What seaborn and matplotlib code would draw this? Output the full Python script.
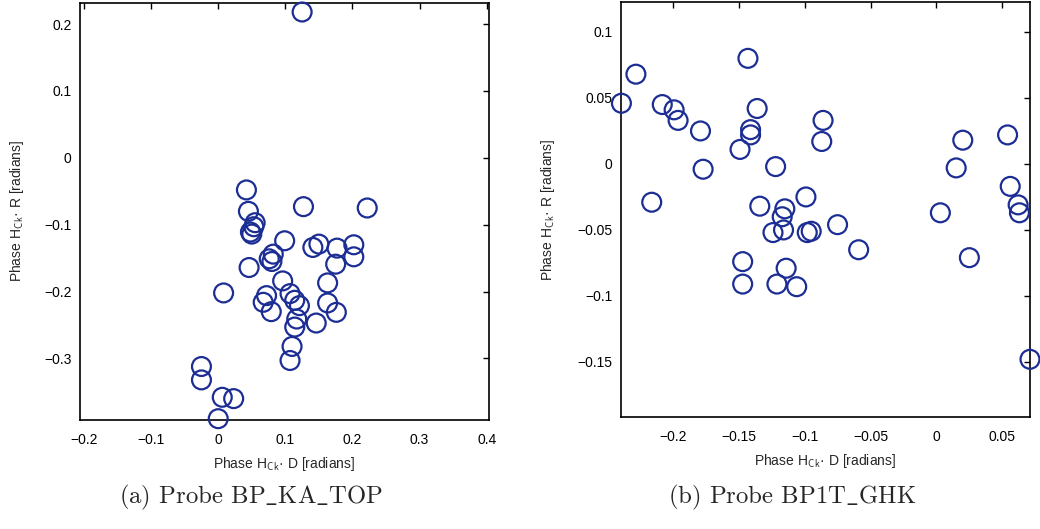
import matplotlib
matplotlib.use("Agg")
import matplotlib.pyplot as plt
import seaborn as sns

# === Data ===
# (a) Probe BP_KA_TOP
ka_top_d = [0.125, 0.042, 0.127, 0.222, 0.045, 0.055, 0.053, 0.048, 0.050, 0.099,
            0.150, 0.141, 0.177, 0.202, 0.202, 0.175, 0.082, 0.076, 0.080, 0.046,
            0.096, 0.163, 0.008, 0.072, 0.107, 0.067, 0.114, 0.121, 0.079, 0.163,
            0.176, 0.146, 0.117, 0.114, 0.110, 0.107, -0.025, -0.025, 0.006, 0.023,
            0.000]
ka_top_r = [0.218, -0.048, -0.073, -0.075, -0.080, -0.097, -0.103, -0.111, -0.114, -0.124,
            -0.129, -0.134, -0.135, -0.130, -0.148, -0.159, -0.144, -0.151, -0.155, -0.164,
            -0.184, -0.187, -0.202, -0.206, -0.203, -0.216, -0.213, -0.221, -0.230, -0.217,
            -0.231, -0.247, -0.241, -0.253, -0.282, -0.303, -0.312, -0.332, -0.358, -0.360,
            -0.390]

# (b) Probe BP1T_GHK
ghk_d = [-0.239, -0.228, -0.208, -0.199, -0.196, -0.179, -0.177, -0.216, -0.143, -0.136,
         -0.141, -0.141, -0.149, -0.086, -0.087, -0.122, -0.134, -0.115, -0.117, -0.099,
         -0.124, -0.116, -0.098, -0.095, -0.075, 0.020, 0.015, 0.003, 0.054, 0.056,
         0.062, 0.063, -0.059, 0.025, -0.147, -0.147, -0.114, -0.121, -0.106, 0.071]
ghk_r = [0.046, 0.068, 0.045, 0.041, 0.033, 0.025, -0.004, -0.029, 0.080, 0.042,
         0.026, 0.022, 0.011, 0.033, 0.017, -0.002, -0.032, -0.034, -0.040, -0.025,
         -0.052, -0.050, -0.052, -0.051, -0.046, 0.018, -0.003, -0.037, 0.022, -0.017,
         -0.031, -0.037, -0.065, -0.071, -0.074, -0.091, -0.079, -0.091, -0.093, -0.148]

ka_xticks = [-0.2, -0.1, 0, 0.1, 0.2, 0.3, 0.4]
ka_xlabels = ["\u22120.2", "\u22120.1", "0", "0.1", "0.2", "0.3", "0.4"]
ka_yticks = [-0.3, -0.2, -0.1, 0, 0.1, 0.2]
ka_ylabels = ["\u22120.3", "\u22120.2", "\u22120.1", "0", "0.1", "0.2"]

ghk_xticks = [-0.2, -0.15, -0.1, -0.05, 0, 0.05]
ghk_xlabels = ["\u22120.2", "\u22120.15", "\u22120.1", "\u22120.05", "0", "0.05"]
ghk_yticks = [-0.15, -0.1, -0.05, 0, 0.05, 0.1]
ghk_ylabels = ["\u22120.15", "\u22120.1", "\u22120.05", "0", "0.05", "0.1"]

captions = ["(a) Probe BP$\\_$KA$\\_$TOP", "(b) Probe BP1T$\\_$GHK"]

sns.set_style("white")
plt.rcParams["font.family"] = ["Liberation Sans", "DejaVu Sans"]
plt.rcParams["mathtext.fontset"] = "cm"

circle_color = "#1c2d94"

fig = plt.figure(figsize=(10.4, 5.29), dpi=100)
ax1 = fig.add_axes([0.0769, 0.206, 0.393, 0.789])
ax2 = fig.add_axes([0.597, 0.211, 0.393, 0.785])

panels = [
    (ax1, ka_top_d, ka_top_r, (-0.206, 0.403), (-0.392, 0.232),
     ka_xticks, ka_xlabels, ka_yticks, ka_ylabels, 13),
    (ax2, ghk_d, ghk_r, (-0.2394, 0.0707), (-0.192, 0.1226),
     ghk_xticks, ghk_xlabels, ghk_yticks, ghk_ylabels, 15),
]

for ax, xs, ys, xlim, ylim, xt, xl, yt, yl, ypad in panels:
    sns.scatterplot(x=xs, y=ys, ax=ax, marker="o", s=185, facecolor="none",
                    edgecolor=circle_color, linewidth=1.6, clip_on=False, zorder=3)
    ax.set_xlim(*xlim)
    ax.set_ylim(*ylim)
    ax.set_xticks(xt)
    ax.set_xticklabels(xl)
    ax.set_yticks(yt)
    ax.set_yticklabels(yl)
    ax.tick_params(direction="in", length=4, width=1, top=True, right=True,
                   labelsize=10, colors="black")
    ax.tick_params(axis="x", pad=9)
    ax.tick_params(axis="y", pad=6)
    for sp in ax.spines.values():
        sp.set_color("black")
        sp.set_linewidth(1.2)
    ax.set_xlabel("Phase H$_{\\mathsf{Ck}}$\u00b7 D [radians]", fontsize=10, labelpad=6)
    ax.set_ylabel("Phase H$_{\\mathsf{Ck}}$\u00b7 R [radians]", fontsize=10, labelpad=ypad)

for xpos, cap in zip([0.241, 0.762], captions):
    fig.text(xpos, 0.06, cap, fontsize=17.8, ha="center", va="center",
             family=["cmr10", "DejaVu Serif"], math_fontfamily="cm")

plt.savefig("out.png", dpi=100)
